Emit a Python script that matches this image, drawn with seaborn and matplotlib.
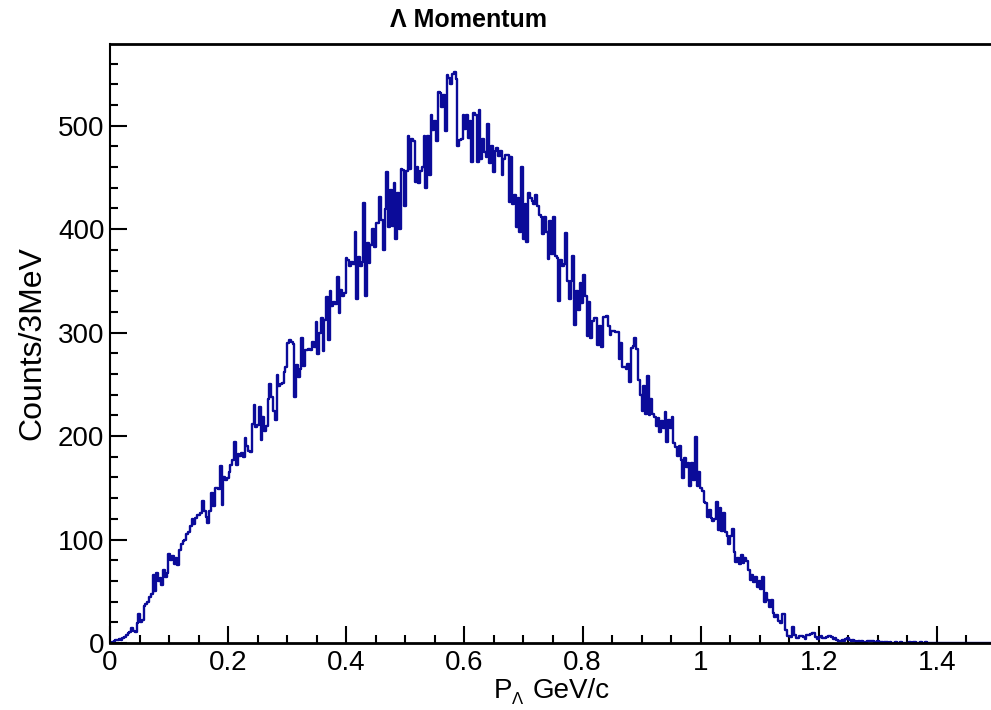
import numpy as np
import pandas as pd
import matplotlib
matplotlib.use("Agg")
import matplotlib.pyplot as plt
from matplotlib.ticker import MultipleLocator, FormatStrFormatter
import seaborn as sns

# Lambda momentum spectrum, 3 MeV bins from 0 to 1.5 GeV/c
bin_width = 0.003
p_min, p_max = 0.0, 1.5

rise_counts = [
    0, 1, 2, 3, 3, 4, 3, 5, 6, 8,
    10, 11, 14, 12, 11, 19, 28, 20, 22, 36,
    38, 40, 44, 47, 66, 50, 68, 60, 63, 56,
    71, 64, 68, 86, 80, 84, 76, 82, 75, 90,
    96, 99, 100, 105, 107, 113, 120, 115, 121, 124,
    124, 126, 137, 128, 122, 116, 128, 145, 132, 150,
    150, 149, 171, 133, 160, 158, 159, 165, 172, 177,
    194, 172, 183, 181, 184, 180, 198, 190, 186, 185,
    212, 230, 209, 211, 228, 196, 218, 205, 210, 236,
    250, 238, 224, 216, 259, 248, 250, 251, 262, 267,
    290, 293, 291, 289, 238, 269, 257, 265, 295, 268,
    283, 283, 284, 283, 291, 286, 310, 279, 300, 314,
    282, 312, 334, 293, 340, 326, 330, 328, 354, 319,
    341, 335, 338, 372, 370, 364, 368, 366, 397, 332,
    373, 364, 368, 425, 335, 387, 367, 385, 400, 383,
    406, 406, 431, 409, 380, 419, 455, 402, 438, 403,
]
peak_counts = [
    445, 390, 435, 400, 458, 457, 422, 456, 490, 458,
    487, 485, 446, 460, 445, 456, 460, 490, 440, 490,
    452, 510, 496, 505, 485, 533, 532, 518, 530, 495,
    549, 546, 540, 550, 552, 545, 480, 486, 487, 510,
    497, 510, 488, 505, 465, 512, 510, 465, 515, 468,
    487, 475, 470, 502, 464, 480, 455, 476, 478, 471,
]
fall_counts = [
    476, 452, 468, 472, 472, 426, 470, 424, 433, 402,
    430, 397, 460, 390, 424, 388, 435, 430, 427, 424,
    433, 422, 414, 412, 395, 412, 397, 371, 408, 376,
    412, 374, 372, 331, 370, 364, 366, 396, 350, 332,
    350, 374, 307, 340, 322, 348, 329, 356, 335, 297,
    330, 295, 311, 314, 314, 288, 306, 286, 315, 315,
    316, 306, 298, 302, 302, 301, 301, 274, 290, 267,
    267, 265, 270, 252, 285, 287, 295, 284, 254, 240,
    224, 248, 221, 258, 220, 236, 221, 218, 210, 217,
    204, 215, 208, 223, 194, 216, 208, 218, 193, 189,
    181, 190, 177, 159, 179, 170, 174, 152, 174, 158,
    199, 152, 165, 150, 147, 136, 135, 122, 129, 121,
    118, 120, 136, 109, 130, 108, 126, 107, 103, 96,
    103, 110, 88, 78, 82, 76, 85, 77, 82, 79,
    71, 61, 66, 59, 64, 54, 60, 52, 64, 40,
    48, 42, 35, 42, 29, 25, 27, 21, 19, 28,
]
tail_counts = [
    28, 13, 7, 7, 6, 15, 8, 5, 5, 7,
    7, 6, 4, 8, 8, 9, 10, 10, 6, 4,
    6, 7, 5, 5, 6, 7, 7, 6, 4, 5,
    3, 2, 2, 3, 2, 4, 5, 3, 2, 3,
    2, 1, 2, 1, 2, 1, 1, 2, 2, 2,
    2, 1, 1, 2, 1, 1, 0, 1, 1, 0,
    1, 0, 0, 1, 0, 0, 1, 0, 0, 0,
    0, 1, 0, 1, 1, 0, 0, 1, 0, 0,
    1, 0, 0, 0, 0, 0, 0, 0, 0, 0,
]

counts = rise_counts + peak_counts + fall_counts + tail_counts
n_bins = int(round((p_max - p_min) / bin_width))
counts = counts + [0] * (n_bins - len(counts))

centers = p_min + bin_width * (np.arange(n_bins) + 0.5)
df = pd.DataFrame({"p": centers, "counts": np.array(counts, dtype=float)})

# Plot

tick_font = ["Liberation Sans Narrow", "Liberation Sans", "DejaVu Sans"]
label_font = ["Liberation Sans", "DejaVu Sans"]
plt.rcParams["font.family"] = label_font

fig = plt.figure(figsize=(9.91, 7.10), dpi=100)
ax = fig.add_axes([0.111, 0.0944, 0.894, 0.8437])

sns.histplot(data=df, x="p", weights="counts", bins=n_bins, binrange=(p_min, p_max),
             element="step", fill=False, color="#0b0b99", linewidth=1.7, ax=ax)

ax.set_xlim(p_min, p_max)
ax.set_ylim(0, 579)
ax.set_xlabel("")
ax.set_ylabel("")

ax.xaxis.set_major_locator(MultipleLocator(0.2))
ax.xaxis.set_minor_locator(MultipleLocator(0.05))
ax.xaxis.set_major_formatter(FormatStrFormatter("%g"))
ax.yaxis.set_major_locator(MultipleLocator(100))
ax.yaxis.set_minor_locator(MultipleLocator(20))

ax.tick_params(which="both", direction="in", width=1.5, top=False, right=False)
ax.tick_params(which="major", length=12)
ax.tick_params(which="minor", length=6)
ax.tick_params(axis="x", which="major", pad=5)
ax.tick_params(axis="y", which="major", pad=4)
for lab in ax.get_xticklabels() + ax.get_yticklabels():
    lab.set_family(tick_font)
    lab.set_fontsize(20)

ax.spines["right"].set_visible(False)
ax.spines["left"].set_linewidth(1.5)
ax.spines["bottom"].set_linewidth(2.0)
ax.spines["top"].set_linewidth(2.0)

fig.text(468 / 991, 1 - 20 / 710, "Λ Momentum", ha="center", va="center",
         fontsize=18, fontweight="bold")
fig.text(32 / 991, 1 - 343 / 710, "Counts/3MeV", rotation=90, ha="center",
         va="center", fontsize=23)
fig.text(494 / 991, 1 - 698 / 710, "P", ha="left", va="baseline", fontsize=20)
fig.text(512 / 991, 1 - 707 / 710, "Λ", ha="left", va="bottom", fontsize=12)
fig.text(533 / 991, 1 - 698 / 710, "GeV/c", ha="left", va="baseline", fontsize=20)

plt.savefig("out.png", dpi=100)
